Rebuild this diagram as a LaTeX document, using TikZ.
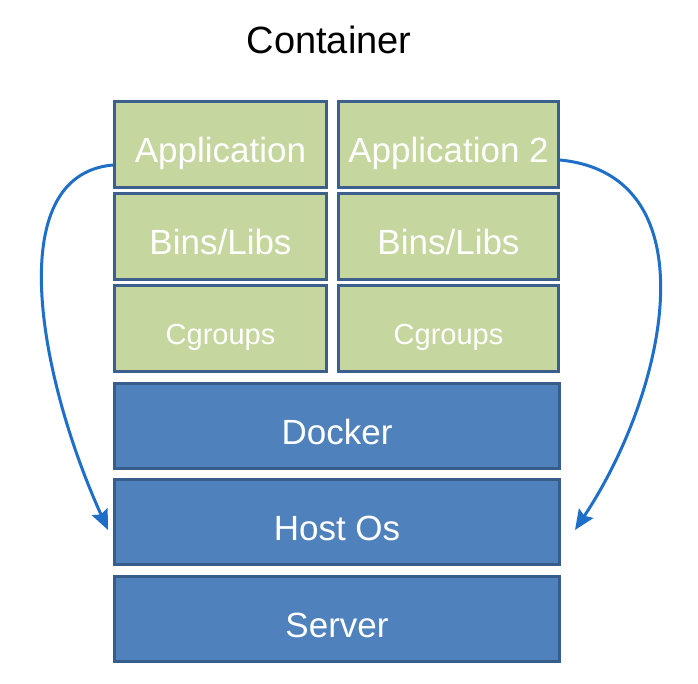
\documentclass[tikz,border=0pt]{standalone}
\usepackage{fontspec}
\setmainfont{Liberation Sans}
\usetikzlibrary{arrows.meta,calc}
\definecolor{gfill}{HTML}{C5D69F}
\definecolor{gline}{HTML}{3D5F8C}
\definecolor{bfill}{HTML}{4F81BD}
\definecolor{bline}{HTML}{385D8A}
\definecolor{arrcol}{HTML}{1F6FC9}
\tikzset{
  greenbox/.style={draw=gline, fill=gfill, line width=3pt, inner sep=0pt,
    minimum height=86pt, text=white, font=\fontsize{35}{35}\selectfont,
    text height=36pt, text depth=0pt},
  smallgreen/.style={greenbox, font=\fontsize{29}{29}\selectfont, text height=32pt},
  bluebox/.style={draw=bline, fill=bfill, line width=3pt, inner sep=0pt,
    minimum width=445pt, minimum height=85pt, text=white,
    font=\fontsize{35}{35}\selectfont, text height=37pt, text depth=0pt},
  titletext/.style={font=\fontsize{38}{38}\selectfont, inner sep=0pt, anchor=base},
  arr/.style={draw=arrcol, line width=3pt, -{Stealth[length=20pt,width=17pt,inset=3pt]}}
}
\begin{document}
\begin{tikzpicture}[x=1pt,y=-1pt]
\useasboundingbox (0,0) rectangle (698,684);
\node[titletext] (title) at (329,54) {Container};
% left column
\node[greenbox, minimum width=212pt] (app1) at (220.5,144.5) {Application};
\node[greenbox, minimum width=212pt] (bins1) at (220.5,236.5) {Bins/Libs};
\node[smallgreen, minimum width=212pt] (cg1) at (220.5,328.5) {Cgroups};
% right column
\node[greenbox, minimum width=220pt] (app2) at (448.5,144.5) {Application 2};
\node[greenbox, minimum width=220pt] (bins2) at (448.5,236.5) {Bins/Libs};
\node[smallgreen, minimum width=220pt] (cg2) at (448.5,328.5) {Cgroups};
% blue layers
\node[bluebox] (docker) at (337,425.5) {Docker};
\node[bluebox] (host) at (337,522) {Host Os};
\node[bluebox] (server) at (337,619) {Server};
% arrow targets
\coordinate (lt) at (108,530);
\coordinate (rt) at (575,530);
\draw[arr] ([yshift=-20.5pt]app1.west) .. controls (0,175) and (40,380) .. (lt);
\draw[arr] ([yshift=-15.5pt]app2.east) .. controls (712,175) and (668,390) .. (rt);
\end{tikzpicture}
\end{document}
